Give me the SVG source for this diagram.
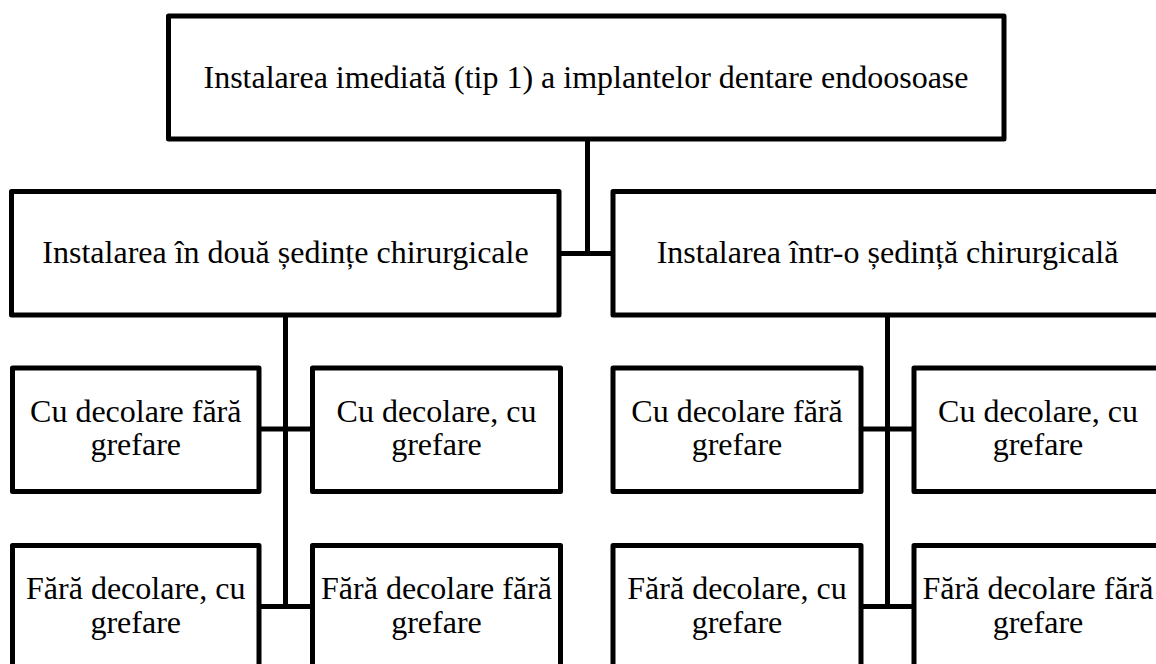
<svg xmlns="http://www.w3.org/2000/svg" width="1156" height="664" viewBox="0 0 1156 664">
<style>
.box{fill:#fff;stroke:#000;stroke-width:5;stroke-linejoin:round}
text{font-family:'Liberation Serif','Tinos','DejaVu Serif',serif;font-size:32px;fill:#000;text-anchor:middle}
.c{stroke:#000;stroke-width:5;fill:none}
</style>
<rect width="1156" height="664" fill="#fff"/>
<g id="connectors">
<line class="c" x1="587.5" y1="139" x2="587.5" y2="253.5"/>
<line class="c" x1="559" y1="253.5" x2="613" y2="253.5"/>
<line class="c" x1="285.5" y1="315" x2="285.5" y2="609"/>
<line class="c" x1="259" y1="429" x2="312.5" y2="429"/>
<line class="c" x1="259" y1="606.5" x2="312.5" y2="606.5"/>
<line class="c" x1="887.5" y1="315" x2="887.5" y2="609"/>
<line class="c" x1="861" y1="429" x2="914" y2="429"/>
<line class="c" x1="861" y1="606.5" x2="914" y2="606.5"/>
</g>
<g id="root">
<rect class="box" x="168.5" y="16" width="835.5" height="123"/>
<text x="586" y="88">Instalarea imediată (tip 1) a implantelor dentare endoosoase</text>
</g>
<g id="two-sessions">
<rect class="box" x="11.5" y="191.5" width="547.5" height="123.5"/>
<text x="285.5" y="263">Instalarea în două ședințe chirurgicale</text>
</g>
<g id="one-session">
<rect class="box" x="613" y="191.5" width="547.5" height="123.5"/>
<text x="887.5" y="263">Instalarea într-o ședință chirurgicală</text>
</g>
<g id="l-cu-fara">
<rect class="box" x="12.5" y="368" width="246.5" height="123.5"/>
<text x="135.75" y="421.5">Cu decolare fără</text>
<text x="135.75" y="455">grefare</text>
</g>
<g id="l-cu-cu">
<rect class="box" x="312.5" y="368" width="248" height="123.5"/>
<text x="436.5" y="421.5">Cu decolare, cu</text>
<text x="436.5" y="455">grefare</text>
</g>
<g id="l-fara-cu">
<rect class="box" x="12.5" y="545.5" width="246.5" height="130"/>
<text x="135.75" y="599">Fără decolare, cu</text>
<text x="135.75" y="632.5">grefare</text>
</g>
<g id="l-fara-fara">
<rect class="box" x="312.5" y="545.5" width="248" height="130"/>
<text x="436.5" y="599">Fără decolare fără</text>
<text x="436.5" y="632.5">grefare</text>
</g>
<g id="r-cu-fara">
<rect class="box" x="613" y="368" width="248" height="123.5"/>
<text x="737" y="421.5">Cu decolare fără</text>
<text x="737" y="455">grefare</text>
</g>
<g id="r-cu-cu">
<rect class="box" x="914" y="368" width="248" height="123.5"/>
<text x="1038" y="421.5">Cu decolare, cu</text>
<text x="1038" y="455">grefare</text>
</g>
<g id="r-fara-cu">
<rect class="box" x="613" y="545.5" width="248" height="130"/>
<text x="737" y="599">Fără decolare, cu</text>
<text x="737" y="632.5">grefare</text>
</g>
<g id="r-fara-fara">
<rect class="box" x="914" y="545.5" width="248" height="130"/>
<text x="1038" y="599">Fără decolare fără</text>
<text x="1038" y="632.5">grefare</text>
</g>
</svg>
